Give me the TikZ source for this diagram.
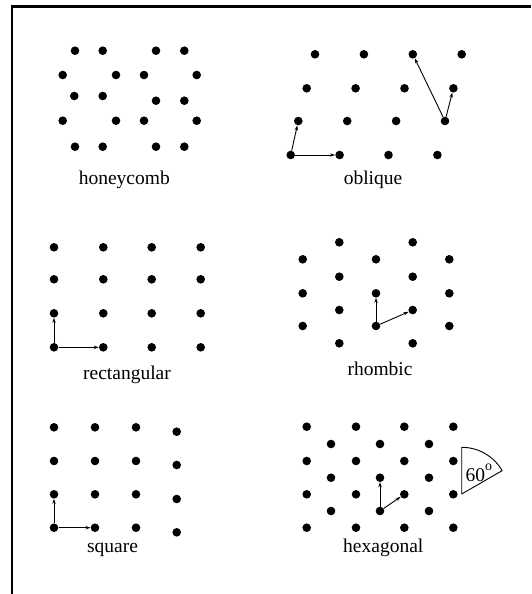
\documentclass[tikz,border=0pt]{standalone}
\usepackage{fontspec}
\setmainfont{Liberation Serif}
\usetikzlibrary{arrows.meta}
\begin{document}
\begin{tikzpicture}[x=1pt,y=-1pt,
  latdot/.style={circle,fill=black,inner sep=0pt,minimum size=8.6pt},
  vec/.style={-{Stealth[length=5pt,width=3.4pt]},line width=0.9pt},
  lab/.style={anchor=base,inner sep=0pt,font=\fontsize{19.5}{23}\selectfont},
  frame/.style={line width=2.2pt,line join=miter}]
\useasboundingbox (0,0) rectangle (531,594);
% frame
\coordinate (fbl) at (11.8,594);
\coordinate (ftl) at (11.8,6.5);
\coordinate (ftr) at (531,6.5);
\draw[frame] (fbl) -- (ftl) -- (ftr);
% honeycomb
\foreach \x/\y [count=\i] in {75/50.7, 102.7/50.7, 156/50.7, 184.3/50.7,
  62.7/75, 116/75, 144/75, 196.7/75,
  74.3/96, 102.7/96, 156/100.7, 184.3/100.7,
  62.7/120.7, 116/120.7, 144/120.7, 196.7/120.7,
  75/146.7, 102.7/146.7, 156/146.7, 184.3/146.7}
  \node[latdot] (hc\i) at (\x,\y) {};
\node[lab] (lhc) at (124.3,184) {honeycomb};
% oblique
\foreach \r/\y/\xo in {1/54.3/315, 2/88.3/306.7, 3/121/298.3, 4/155/290.7}
  \foreach \c in {0,...,3}
    \node[latdot] (ob-\r-\c) at (\xo+\c*48.9,\y) {};
\draw[vec] (ob-4-0) -- (ob-4-1);
\draw[vec] (ob-4-0) -- (ob-3-0);
\draw[vec] (ob-3-3) -- (ob-2-3);
\draw[vec] (ob-3-3) -- (ob-1-2);
\node[lab] (lob) at (373,184.3) {oblique};
% rectangular
\foreach \y [count=\r] in {247.3,279.3,313.3,347.3}
  \foreach \x [count=\c] in {54,103.3,151.7,200.7}
    \node[latdot] (re-\r-\c) at (\x,\y) {};
\draw[vec] (re-4-1) -- (re-4-2);
\draw[vec] (re-4-1) -- (re-3-1);
\node[lab] (lre) at (127,379) {rectangular};
% rhombic
\foreach \x [count=\c] in {302.7,376,449.3}
  \foreach \y [count=\r] in {259.3,293.3,326}
    \node[latdot] (rha-\r-\c) at (\x,\y) {};
\foreach \x [count=\c] in {339.3,412.7}
  \foreach \y [count=\r] in {242.3,276.7,310,343.3}
    \node[latdot] (rhb-\r-\c) at (\x,\y) {};
\draw[vec] (rha-3-2) -- (rha-2-2);
\draw[vec] (rha-3-2) -- (rhb-3-2);
\node[lab] (lrh) at (380,375.7) {rhombic};
% square
\foreach \y [count=\r] in {427.3,461,494.3,527.7}
  \foreach \x [count=\c] in {54,95,136}
    \node[latdot] (sq-\r-\c) at (\x,\y) {};
\foreach \y [count=\r] in {431.7,465,499,532.3}
  \node[latdot] (sq-\r-4) at (176.7,\y) {};
\draw[vec] (sq-4-1) -- (sq-4-2);
\draw[vec] (sq-4-1) -- (sq-3-1);
\node[lab] (lsq) at (112.5,552.7) {square};
% hexagonal
\foreach \y [count=\r] in {426.7,461,494.3,527.7}
  \foreach \x [count=\c] in {306.7,356,404.3,453.3}
    \node[latdot] (hxa-\r-\c) at (\x,\y) {};
\foreach \y [count=\r] in {444,477.7,511}
  \foreach \x [count=\c] in {331,380,429}
    \node[latdot] (hxb-\r-\c) at (\x,\y) {};
\draw[vec] (hxb-3-2) -- (hxb-2-2);
\draw[vec] (hxb-3-2) -- (hxa-3-3);
\node[lab] (lhx) at (383.3,552.7) {hexagonal};
% angle sector
\coordinate (sapex) at (461.7,494);
\coordinate (stop) at (461.7,447.3);
\draw[line width=0.9pt,line join=round] (sapex) -- (stop) arc[start angle=90,end angle=30,radius=46.7pt] -- cycle;
\node[lab,anchor=base west] (lang) at (465.5,481.7) {60\raisebox{11.5pt}{\fontsize{14}{14}\selectfont o}};
\end{tikzpicture}
\end{document}
